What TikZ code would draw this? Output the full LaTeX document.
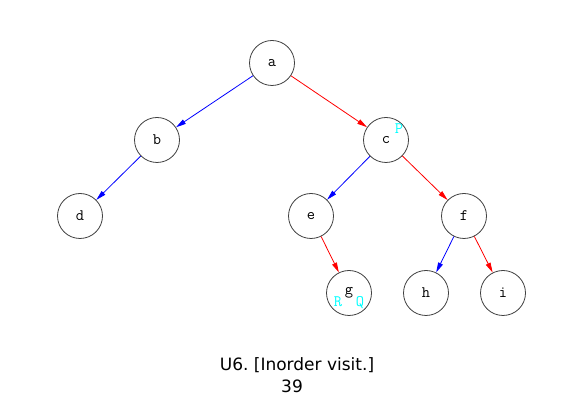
\documentclass[tikz,border=0pt]{standalone}
\usepackage{fontspec}
\setmainfont{DejaVu Sans}
\usetikzlibrary{arrows.meta}
\definecolor{tagcyan}{RGB}{0,255,255}
\tikzset{>={Stealth[length=10pt,width=5pt,inset=0pt]}}
\tikzset{
    vertex/.style={circle,draw=black!75,line width=0.8pt,minimum size=45pt,inner sep=0pt,font=\ttfamily\fontsize{16}{16}\selectfont},
    tag/.style={text=tagcyan,font=\ttfamily\fontsize{16}{16}\selectfont,inner sep=0pt},
    lft/.style={draw=blue,line width=0.8pt},
    rgt/.style={draw=red,line width=0.8pt}
}
\frenchspacing

\begin{document}
\begin{tikzpicture}[x=1pt,y=1pt]
    \useasboundingbox (0,0) rectangle (585,414);
    \node[vertex] at (272,351) (a) {a};
    \node[vertex] at (157,274) (b) {b};
    \node[vertex] at (386,274) (c) {c};
    \node[vertex] at (80,198) (d) {d};
    \node[vertex] at (311,198) (e) {e};
    \node[vertex] at (464,198) (f) {f};
    \node[vertex] at (349,121) (g) {g};
    \node[vertex] at (426,121) (h) {h};
    \node[vertex] at (503,121) (i) {i};
    \node[tag] at (399,285) (tagP) {P};
    \node[tag] at (338,112) (tagR) {R};
    \node[tag] at (360,111) (tagQ) {Q};
    \path[->]
    (a) edge [lft] (b)
    (a) edge [rgt] (c)
    (b) edge [lft] (d)
    (c) edge [lft] (e)
    (c) edge [rgt] (f)
    (e) edge [rgt] (g)
    (f) edge [lft] (h)
    (f) edge [rgt] (i)
    ;
    \node[font=\fontsize{17}{17}\selectfont,align=center] at (297,49) (caption) {U6. [Inorder visit.]};
    \node[font=\fontsize{17}{17}\selectfont] at (292,28) (step) {39};
\end{tikzpicture}
\end{document}
